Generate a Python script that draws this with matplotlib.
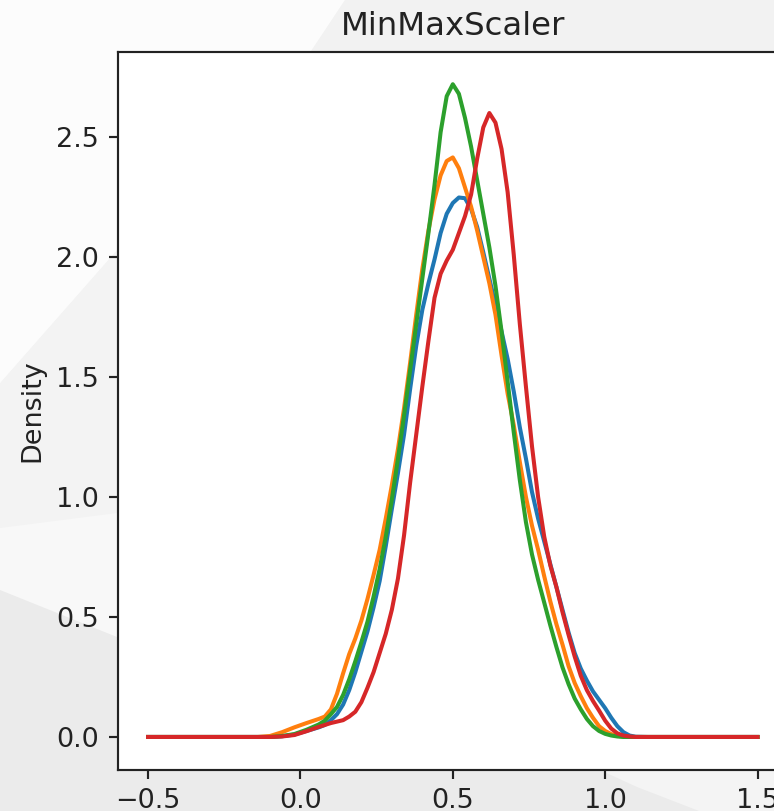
import matplotlib
matplotlib.use("Agg")
import matplotlib.pyplot as plt
from matplotlib.patches import Polygon

# KDE curves of four MinMax-scaled features, read on a shared x grid
grid_x = [-0.5, -0.14, -0.1, -0.06, -0.02, 0.02, 0.06, 0.08, 0.10, 0.12,
          0.14, 0.16, 0.18, 0.20, 0.22, 0.24, 0.26, 0.28, 0.30, 0.32,
          0.34, 0.36, 0.38, 0.40, 0.42, 0.44, 0.46, 0.48, 0.50, 0.52,
          0.54, 0.56, 0.58, 0.60, 0.62, 0.64, 0.66, 0.68, 0.70, 0.72,
          0.74, 0.76, 0.78, 0.80, 0.82, 0.84, 0.86, 0.88, 0.90, 0.92,
          0.94, 0.96, 0.98, 1.00, 1.02, 1.04, 1.06, 1.08, 1.10, 1.14,
          1.5]

blue_y = [0, 0, 0, 0.003, 0.01, 0.025, 0.04, 0.05, 0.07, 0.095,
          0.135, 0.195, 0.27, 0.355, 0.44, 0.54, 0.65, 0.795, 0.95, 1.10,
          1.26, 1.45, 1.63, 1.78, 1.89, 1.99, 2.10, 2.18, 2.225, 2.248,
          2.245, 2.20, 2.125, 2.02, 1.91, 1.80, 1.69, 1.575, 1.44, 1.29,
          1.16, 1.02, 0.91, 0.815, 0.72, 0.625, 0.53, 0.435, 0.35, 0.285,
          0.235, 0.19, 0.155, 0.12, 0.08, 0.045, 0.02, 0.006, 0.001, 0,
          0]

orange_y = [0, 0, 0.004, 0.02, 0.04, 0.058, 0.075, 0.085, 0.115, 0.18,
            0.265, 0.345, 0.41, 0.485, 0.575, 0.675, 0.78, 0.91, 1.05, 1.2,
            1.37, 1.56, 1.76, 1.95, 2.11, 2.24, 2.34, 2.40, 2.415, 2.37,
            2.29, 2.21, 2.11, 2.0, 1.89, 1.76, 1.59, 1.43, 1.30, 1.145,
            1.0, 0.88, 0.78, 0.67, 0.565, 0.47, 0.385, 0.295, 0.225, 0.17,
            0.12, 0.08, 0.045, 0.025, 0.012, 0.005, 0.001, 0, 0, 0,
            0]

green_y = [0, 0, 0, 0.004, 0.012, 0.03, 0.052, 0.068, 0.095, 0.125,
           0.175, 0.24, 0.315, 0.395, 0.48, 0.585, 0.70, 0.835, 0.99, 1.16,
           1.34, 1.53, 1.72, 1.91, 2.10, 2.30, 2.52, 2.67, 2.72, 2.68,
           2.58, 2.46, 2.32, 2.18, 2.04, 1.88, 1.69, 1.48, 1.27, 1.07,
           0.895, 0.76, 0.655, 0.56, 0.465, 0.375, 0.29, 0.22, 0.16, 0.115,
           0.075, 0.045, 0.025, 0.013, 0.006, 0.002, 0, 0, 0, 0,
           0]

red_y = [0, 0, 0, 0.002, 0.008, 0.024, 0.042, 0.05, 0.058, 0.064,
         0.07, 0.085, 0.105, 0.145, 0.205, 0.27, 0.35, 0.43, 0.53, 0.66,
         0.84, 1.06, 1.26, 1.46, 1.65, 1.83, 1.93, 1.985, 2.03, 2.10,
         2.17, 2.26, 2.41, 2.54, 2.60, 2.56, 2.45, 2.27, 2.01, 1.72,
         1.46, 1.21, 1.0, 0.835, 0.715, 0.625, 0.52, 0.425, 0.335, 0.255,
         0.195, 0.15, 0.11, 0.068, 0.035, 0.015, 0.006, 0.002, 0, 0,
         0]

curves = [blue_y, orange_y, green_y, red_y]
colors = ["tab:blue", "tab:orange", "tab:green", "tab:red"]

xticks = [-0.5, 0.0, 0.5, 1.0, 1.5]
yticks = [0.0, 0.5, 1.0, 1.5, 2.0, 2.5]

W, H = 774, 811
S = 1.944  # scale from default notebook sizes

fig = plt.figure(figsize=(W / 100, H / 100), dpi=100, facecolor="#ebebeb")


def shade(points, color):
    pts = [(x / W, 1 - y / H) for x, y in points]
    fig.add_artist(Polygon(pts, closed=True, facecolor=color, edgecolor="none",
                           transform=fig.transFigure, zorder=-10))


# soft grey background panels
shade([(0, 0), (774, 0), (774, 60), (117, 60), (117, 637), (0, 590)], "#f8f8f8")
shade([(0, 383), (117, 250), (117, 513), (0, 528)], "#f3f3f3")
shade([(0, 0), (345, 0), (310, 55), (117, 55), (117, 250), (0, 383)], "#fcfcfc")
shade([(345, 0), (774, 0), (774, 60), (305, 60)], "#f2f2f2")
shade([(600, 770), (774, 770), (774, 840), (637, 787)], "#f4f4f4")

ax = fig.add_axes([117.6 / W, 1 - 769.6 / H, (788 - 117.6) / W, (769.6 - 51.6) / H])
ax.set_facecolor("white")

for ys, c in zip(curves, colors):
    ax.plot(grid_x, ys, color=c, linewidth=1.5 * S)

ax.set_xlim(-0.6, 1.6)
ax.set_ylim(-0.136, 2.856)
ax.set_xticks(xticks)
ax.set_yticks(yticks)
ax.tick_params(labelsize=10 * S, length=3.5 * S, width=0.8 * S, pad=3.5 * S,
               colors="#222222")
for sp in ax.spines.values():
    sp.set_linewidth(0.8 * S)
    sp.set_color("#222222")

ax.set_title("MinMaxScaler", fontsize=12 * S, pad=6 * S, color="#222222")
ax.set_ylabel("Density", fontsize=10 * S, labelpad=4 * S, color="#222222")

fig.savefig("out.png", dpi=100, facecolor=fig.get_facecolor())
